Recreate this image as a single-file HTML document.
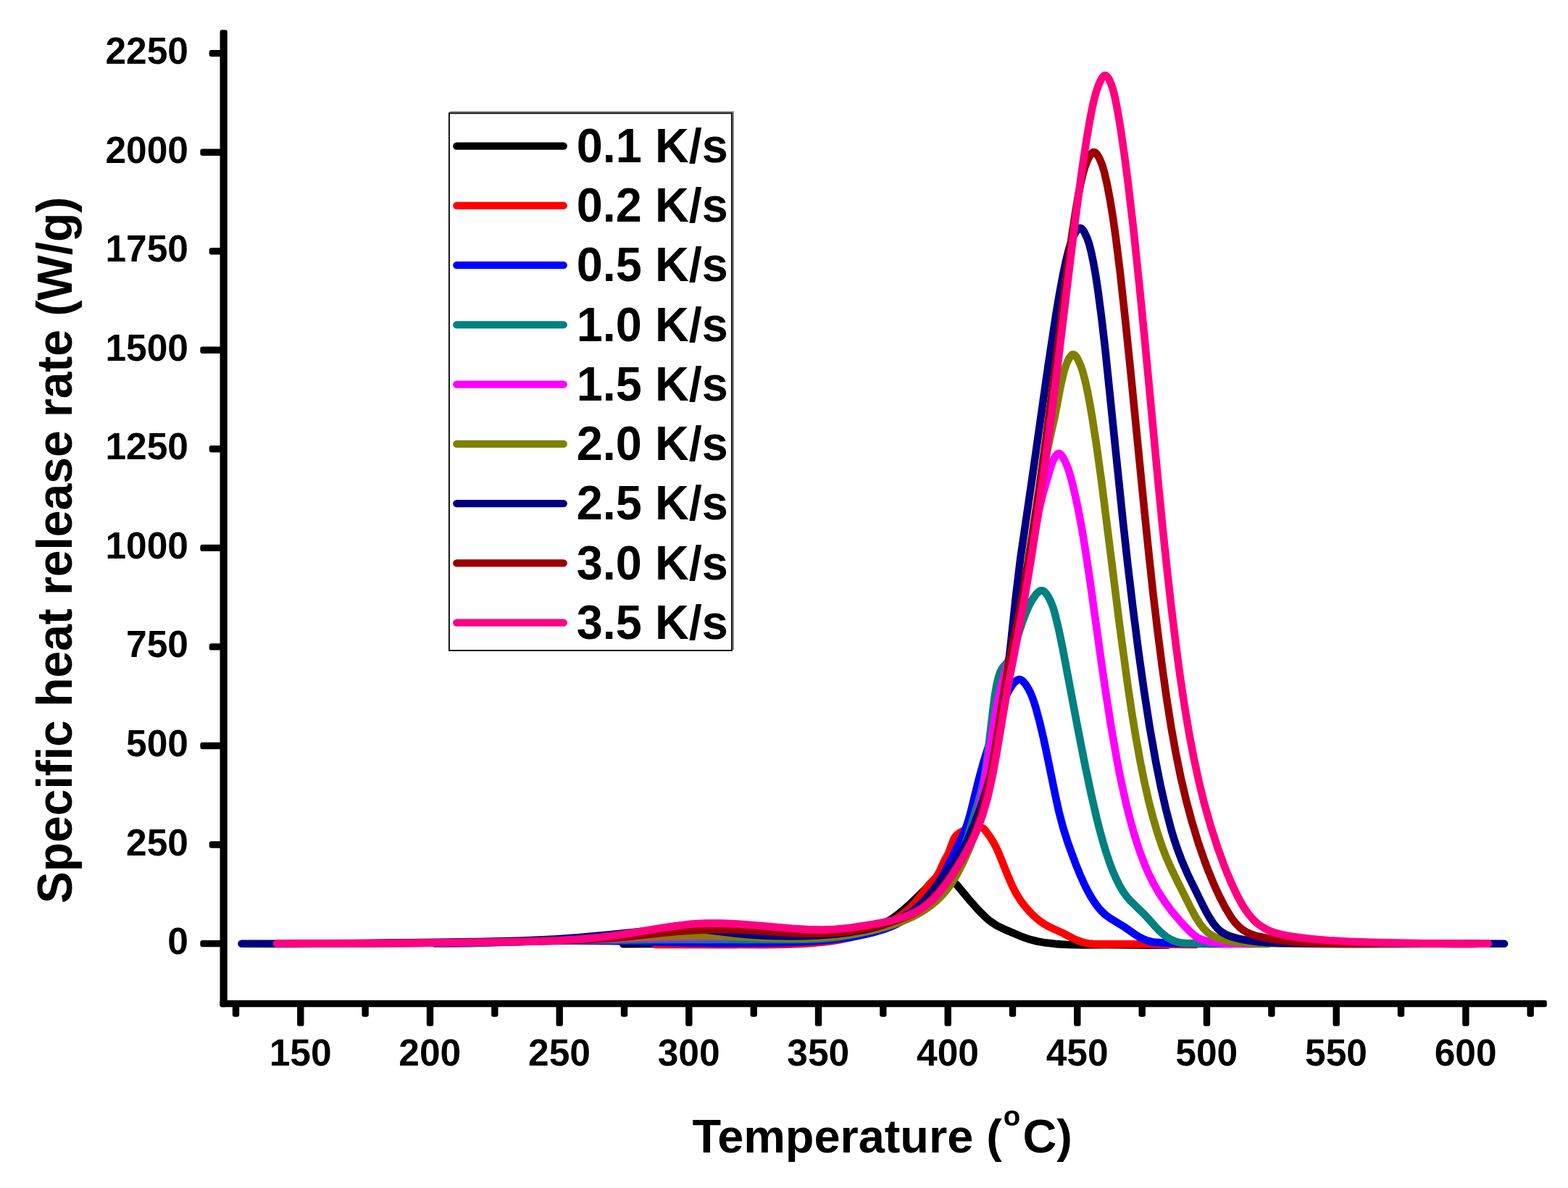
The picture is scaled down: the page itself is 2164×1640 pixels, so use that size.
<!DOCTYPE html>
<html lang="en"><head><meta charset="utf-8"><title>Specific heat release rate vs temperature</title>
<style>
html,body{margin:0;padding:0;background:#fff;}
body{width:2164px;height:1640px;}
svg{display:block;}
text{font-family:"Liberation Sans",Arial,Helvetica,sans-serif;font-weight:bold;fill:#000;}
</style></head><body>
<svg width="2164" height="1640" viewBox="0 0 2164 1640">
<rect width="2164" height="1640" fill="#fff"/>

<g fill="none" stroke-linecap="round" stroke-linejoin="round" stroke-width="10.6">
<path stroke="#000000" d="M860.0,1303.2 897.6,1303.0 1004.5,1303.2 1037.6,1302.8 1066.2,1302.0 1097.8,1300.3 1124.8,1298.1 1150.2,1294.9 1160.6,1293.3 1171.0,1291.3 1187.1,1287.4 1201.4,1282.9 1213.9,1277.7 1220.7,1274.3 1225.9,1271.4 1231.0,1268.2 1237.2,1263.8 1247.7,1255.4 1257.8,1246.2 1278.3,1226.4 1287.4,1218.5 1292.4,1215.1 1296.4,1213.0 1300.7,1211.7 1303.7,1211.5 1306.7,1211.8 1311.0,1213.3 1313.5,1214.8 1317.0,1217.7 1322.1,1223.3 1336.4,1240.7 1350.4,1256.5 1359.9,1266.1 1364.5,1270.1 1368.1,1272.8 1375.7,1277.7 1386.5,1283.0 1408.7,1292.4 1421.4,1296.9 1431.6,1299.5 1443.5,1301.6 1457.0,1303.1 1472.0,1304.0 1493.1,1304.4 1530.7,1304.3 1586.4,1304.6 1612.0,1304.5"/>
<path stroke="#ff0000" d="M905.0,1304.0 1053.9,1304.1 1083.9,1303.6 1109.5,1302.6 1123.0,1301.6 1136.4,1300.4 1148.4,1298.9 1158.8,1297.2 1170.6,1294.9 1180.8,1292.4 1190.9,1289.5 1199.5,1286.6 1207.9,1283.3 1216.1,1279.6 1224.1,1275.6 1232.0,1271.2 1238.4,1267.2 1244.5,1262.9 1250.4,1258.2 1256.0,1253.2 1260.3,1248.9 1264.3,1244.4 1269.0,1238.6 1280.8,1223.0 1284.7,1218.4 1291.1,1212.0 1293.7,1208.4 1296.6,1203.1 1302.8,1189.4 1308.6,1178.9 1310.3,1174.7 1315.4,1160.6 1317.4,1156.5 1319.2,1154.1 1321.3,1152.0 1324.9,1149.3 1328.8,1147.1 1331.6,1145.9 1334.5,1145.0 1338.9,1144.0 1352.3,1142.0 1355.2,1142.6 1356.5,1143.3 1357.7,1144.2 1359.8,1146.4 1366.0,1154.8 1371.6,1163.8 1375.1,1170.4 1378.8,1178.7 1391.7,1210.7 1397.1,1223.1 1402.6,1233.8 1408.2,1242.7 1411.8,1247.6 1416.5,1253.5 1421.5,1259.1 1426.8,1264.4 1431.3,1268.4 1436.0,1272.1 1441.0,1275.5 1444.9,1277.7 1450.3,1280.5 1466.6,1288.0 1480.0,1295.0 1485.4,1297.5 1493.9,1300.7 1498.2,1301.8 1502.7,1302.5 1508.7,1303.1 1516.2,1303.4 1553.8,1303.3 1650.0,1304.0"/>
<path stroke="#0000ff" d="M600.0,1302.5 622.5,1302.5 648.1,1302.2 747.1,1299.2 789.2,1298.6 840.2,1299.0 948.3,1301.4 997.9,1302.1 1048.9,1302.0 1092.5,1301.0 1116.5,1299.8 1137.4,1298.2 1156.9,1296.2 1174.7,1293.7 1190.9,1290.6 1207.0,1286.8 1221.4,1282.4 1232.6,1278.0 1238.0,1275.4 1243.2,1272.5 1248.2,1269.2 1253.1,1265.6 1257.7,1261.8 1263.2,1256.7 1275.8,1243.8 1284.6,1233.6 1291.8,1224.0 1299.8,1211.2 1307.7,1196.7 1314.3,1183.3 1328.6,1153.5 1331.6,1146.6 1334.2,1139.6 1336.5,1132.4 1339.4,1122.3 1350.9,1075.6 1357.7,1051.0 1363.1,1033.8 1377.4,991.1 1385.4,968.5 1388.2,961.5 1390.8,956.1 1393.7,950.8 1397.0,945.8 1399.8,942.3 1403.1,939.3 1404.4,938.5 1405.9,938.1 1407.4,938.1 1408.8,938.4 1410.1,939.1 1412.4,941.1 1416.2,945.7 1419.3,950.9 1422.1,956.2 1424.4,961.7 1426.9,968.8 1429.6,977.4 1434.7,996.3 1439.9,1018.2 1444.9,1041.7 1457.0,1100.5 1461.5,1121.0 1467.3,1142.8 1474.1,1164.3 1479.2,1178.4 1485.6,1195.3 1490.7,1207.8 1495.6,1218.7 1500.2,1228.2 1505.3,1237.4 1510.1,1245.0 1515.4,1252.3 1519.3,1256.9 1523.6,1261.1 1527.0,1264.0 1531.9,1267.5 1551.1,1279.2 1564.6,1288.7 1570.9,1292.8 1577.6,1296.3 1584.6,1298.9 1589.0,1300.0 1594.9,1300.9 1609.9,1301.9 1671.5,1302.9 1700.0,1303.0"/>
<path stroke="#008080" d="M600.0,1302.0 654.1,1301.4 768.2,1298.5 828.3,1297.6 920.0,1297.0 1094.2,1297.0 1113.8,1296.7 1130.3,1296.1 1146.8,1294.8 1161.7,1292.9 1176.5,1290.3 1192.6,1286.7 1208.5,1282.2 1224.2,1277.0 1236.7,1271.9 1247.4,1266.5 1252.5,1263.3 1257.5,1259.9 1266.8,1252.3 1272.3,1247.2 1277.5,1241.8 1288.5,1229.5 1307.8,1206.4 1315.9,1195.7 1320.1,1189.4 1323.8,1182.9 1327.2,1176.2 1330.3,1169.3 1333.5,1160.9 1336.4,1152.4 1349.9,1107.8 1353.9,1093.3 1357.3,1078.7 1360.0,1063.9 1362.6,1046.1 1370.3,980.4 1372.8,961.0 1375.6,944.7 1378.5,933.1 1380.5,927.4 1382.6,923.4 1384.3,921.0 1390.3,914.2 1392.6,910.4 1394.5,906.3 1398.7,895.0 1411.8,856.6 1416.6,844.0 1420.3,835.8 1424.6,827.9 1429.8,820.5 1431.8,818.3 1434.1,816.4 1435.4,815.6 1436.9,815.2 1438.4,815.3 1439.8,815.7 1441.1,816.5 1444.1,819.8 1446.6,823.5 1449.4,828.8 1451.8,834.4 1453.8,840.1 1455.9,847.3 1460.9,867.7 1466.4,894.2 1488.5,1010.8 1498.1,1059.4 1506.2,1097.6 1513.6,1129.8 1518.1,1147.3 1522.5,1163.2 1526.9,1177.6 1531.2,1190.4 1535.4,1201.7 1540.2,1212.7 1544.9,1222.1 1549.4,1229.9 1554.6,1237.3 1559.5,1243.0 1579.9,1262.9 1595.0,1279.6 1600.2,1285.1 1605.7,1290.1 1610.5,1293.7 1615.7,1296.8 1621.2,1299.3 1625.4,1300.7 1629.9,1301.6 1634.3,1302.1 1638.8,1302.3 1658.4,1302.0 1691.4,1302.8 1750.0,1303.0"/>
<path stroke="#ff00ff" d="M500.0,1302.3 576.6,1301.9 659.2,1300.7 740.3,1298.9 905.4,1294.5 964.0,1293.4 997.0,1293.1 1028.6,1293.2 1105.1,1294.6 1120.1,1294.4 1133.7,1293.8 1151.6,1292.2 1169.4,1289.6 1187.1,1286.0 1206.0,1281.0 1223.1,1275.4 1237.0,1269.8 1243.8,1266.5 1249.1,1263.7 1255.5,1259.8 1260.5,1256.4 1266.5,1251.9 1272.2,1247.1 1277.8,1242.0 1284.1,1235.6 1290.1,1228.9 1295.8,1221.9 1302.2,1213.6 1308.3,1205.0 1323.2,1182.5 1327.9,1174.8 1332.3,1166.9 1336.4,1158.9 1340.0,1150.6 1343.2,1142.2 1346.1,1133.7 1349.1,1123.6 1351.7,1113.4 1354.3,1101.7 1356.9,1088.4 1361.8,1060.3 1372.4,993.6 1377.5,965.5 1382.0,946.5 1391.0,914.7 1397.2,891.5 1402.2,871.1 1407.1,849.1 1414.5,812.3 1429.4,728.0 1432.8,710.3 1435.6,697.0 1440.0,679.6 1449.2,647.8 1451.5,640.7 1453.8,635.1 1456.6,629.8 1458.4,627.5 1459.6,626.5 1461.0,626.0 1462.4,626.3 1463.7,627.1 1464.7,628.2 1466.5,630.6 1470.1,637.2 1473.6,645.5 1476.4,654.1 1479.9,667.1 1483.4,681.7 1487.3,699.3 1492.7,727.4 1498.3,761.4 1504.5,803.0 1519.0,907.1 1526.1,956.2 1533.8,1005.2 1541.3,1048.1 1545.6,1070.2 1550.3,1092.2 1554.6,1111.2 1559.4,1130.2 1564.2,1147.6 1569.0,1163.4 1573.8,1177.6 1579.1,1191.6 1585.0,1205.5 1591.6,1218.9 1599.0,1232.0 1607.3,1244.5 1617.1,1257.8 1628.7,1271.6 1635.8,1279.3 1642.1,1285.8 1646.6,1289.8 1650.1,1292.6 1655.2,1295.7 1660.9,1297.8 1669.6,1299.8 1681.5,1301.8 1689.0,1302.5 1698.0,1302.9 1731.0,1303.0"/>
<path stroke="#808000" d="M450.0,1302.4 510.1,1302.3 568.6,1301.9 624.1,1301.2 678.2,1300.2 766.7,1297.8 922.8,1292.3 955.8,1291.5 975.3,1291.4 993.3,1291.8 1054.8,1294.6 1078.8,1295.3 1105.8,1295.3 1132.8,1294.1 1158.3,1292.0 1180.6,1289.0 1201.2,1285.1 1211.5,1282.6 1221.6,1279.9 1231.6,1276.8 1240.1,1273.8 1249.9,1269.9 1258.1,1266.2 1266.1,1262.1 1272.6,1258.4 1278.9,1254.3 1285.0,1249.8 1290.8,1245.0 1296.3,1239.9 1301.4,1234.5 1307.2,1227.5 1311.6,1221.5 1316.5,1214.0 1321.1,1206.2 1325.4,1198.2 1330.0,1188.8 1334.9,1177.9 1340.1,1165.4 1344.9,1152.8 1349.5,1140.0 1353.2,1128.6 1356.6,1117.1 1360.2,1104.1 1365.0,1083.6 1369.8,1060.1 1375.1,1030.5 1386.2,962.4 1391.4,932.8 1397.7,900.4 1410.2,840.1 1415.5,812.1 1422.7,767.6 1438.0,663.6 1441.4,642.9 1444.7,625.2 1447.7,610.5 1455.7,575.3 1463.5,534.0 1467.8,515.0 1470.9,504.9 1473.1,499.4 1475.1,495.3 1476.7,492.8 1478.6,490.5 1479.8,489.6 1481.3,489.4 1482.7,489.8 1483.9,490.7 1485.8,493.1 1487.3,495.6 1491.1,503.8 1494.1,512.3 1497.2,523.9 1500.5,538.6 1503.9,556.2 1507.2,575.5 1513.2,614.1 1520.0,663.1 1545.1,862.7 1555.8,941.6 1561.7,981.7 1567.5,1017.2 1573.1,1048.3 1579.0,1077.7 1584.9,1104.1 1591.3,1128.8 1597.6,1150.4 1604.4,1170.3 1609.9,1184.3 1616.6,1199.4 1623.8,1214.2 1643.9,1254.5 1650.4,1266.4 1656.0,1275.2 1661.6,1282.3 1667.0,1287.5 1671.9,1291.0 1674.5,1292.4 1678.6,1294.3 1687.2,1297.0 1696.0,1299.0 1704.9,1300.4 1713.9,1301.3 1724.4,1302.0 1734.9,1302.3 1835.4,1302.9 1900.0,1303.0"/>
<path stroke="#000080" d="M333.5,1302.8 405.6,1302.9 489.6,1302.3 660.7,1300.1 722.3,1298.6 759.8,1296.9 797.2,1294.4 842.0,1290.4 910.7,1283.2 925.7,1282.0 939.2,1281.5 951.2,1281.7 963.2,1282.5 975.1,1283.7 1016.9,1288.7 1033.3,1290.2 1051.3,1291.4 1070.8,1292.2 1090.3,1292.4 1109.8,1292.2 1127.8,1291.5 1151.7,1289.7 1174.1,1286.9 1193.3,1283.5 1203.5,1281.1 1212.2,1278.8 1220.8,1276.1 1229.3,1273.1 1236.3,1270.4 1243.1,1267.2 1249.8,1263.7 1256.2,1259.8 1262.3,1255.5 1267.0,1251.7 1271.4,1247.7 1276.6,1242.3 1281.6,1236.6 1287.2,1229.6 1302.6,1209.3 1318.4,1189.2 1324.3,1180.5 1329.5,1171.4 1334.8,1160.6 1340.8,1146.9 1346.9,1131.5 1353.2,1114.6 1358.0,1100.4 1362.5,1086.1 1366.6,1071.7 1370.3,1057.1 1374.2,1039.5 1377.9,1020.4 1381.5,999.6 1384.5,978.9 1389.9,935.7 1402.1,822.2 1408.2,771.6 1424.3,661.6 1446.9,502.6 1457.3,434.3 1462.3,404.7 1466.7,381.1 1471.0,360.6 1475.0,344.6 1478.6,333.1 1480.9,327.5 1482.9,323.5 1485.1,319.6 1486.8,317.1 1489.1,315.2 1490.6,314.8 1492.0,315.2 1493.2,316.0 1495.2,318.3 1496.7,320.9 1500.5,329.0 1503.4,337.6 1506.3,349.2 1509.3,363.9 1512.4,381.7 1515.5,402.4 1520.2,438.2 1525.4,482.9 1549.4,715.8 1556.5,780.0 1563.4,838.1 1571.2,899.2 1579.0,954.2 1586.8,1004.6 1594.9,1050.5 1601.9,1085.8 1609.3,1118.0 1616.5,1145.6 1620.4,1158.5 1624.2,1169.9 1631.0,1188.2 1639.4,1207.5 1659.8,1249.3 1664.6,1258.6 1668.3,1265.2 1674.0,1274.0 1679.6,1281.0 1682.9,1284.1 1685.2,1286.0 1687.7,1287.7 1691.6,1289.9 1695.8,1291.6 1700.0,1293.2 1711.6,1296.3 1723.4,1298.5 1738.3,1300.2 1751.8,1301.3 1766.8,1301.9 1811.8,1302.6 1877.8,1302.9 2076.0,1302.8"/>
<path stroke="#990000" d="M400.0,1302.5 551.6,1302.0 628.2,1301.4 700.2,1300.3 769.2,1298.4 814.2,1296.7 844.2,1295.0 868.1,1292.9 912.9,1287.9 933.8,1285.9 959.2,1284.1 983.2,1283.2 1004.3,1283.1 1026.8,1283.7 1044.8,1284.7 1088.2,1287.7 1110.7,1288.7 1131.7,1288.9 1149.7,1288.1 1160.2,1287.3 1172.1,1285.9 1182.5,1284.4 1192.8,1282.5 1204.6,1280.0 1214.8,1277.4 1224.9,1274.5 1234.9,1271.3 1243.3,1268.3 1251.7,1264.9 1258.5,1261.8 1263.8,1258.9 1268.9,1255.8 1275.0,1251.4 1279.6,1247.6 1285.1,1242.5 1291.4,1236.0 1298.2,1228.0 1304.8,1219.8 1312.8,1208.9 1319.6,1199.0 1325.2,1190.1 1330.5,1181.1 1335.4,1171.8 1339.9,1162.3 1344.0,1152.6 1347.8,1142.8 1351.2,1132.9 1354.3,1122.8 1357.6,1111.3 1360.6,1099.6 1363.6,1086.5 1368.0,1064.4 1372.7,1037.8 1386.3,951.8 1390.7,925.2 1395.2,901.6 1405.7,850.1 1412.3,814.7 1418.5,777.6 1425.4,733.2 1434.4,672.3 1443.4,606.8 1453.7,527.9 1474.0,364.1 1479.9,321.0 1485.2,286.8 1488.3,269.1 1491.2,254.4 1494.3,241.2 1497.1,231.1 1500.3,222.7 1502.2,218.6 1504.3,214.6 1506.1,212.2 1507.1,211.1 1508.4,210.3 1509.8,210.0 1511.3,210.4 1513.5,212.4 1516.7,217.5 1518.6,221.6 1520.9,227.1 1524.3,238.6 1528.0,254.7 1531.9,275.4 1535.8,299.1 1539.8,327.3 1546.1,377.9 1553.1,442.1 1560.0,509.3 1579.8,709.5 1586.0,769.2 1591.5,819.9 1597.9,873.6 1604.0,921.2 1610.1,964.3 1616.4,1004.4 1622.8,1039.8 1629.7,1073.6 1637.3,1105.8 1645.1,1134.8 1653.8,1163.5 1663.2,1190.5 1668.0,1203.1 1673.1,1215.6 1677.9,1226.6 1683.0,1237.5 1691.3,1253.5 1698.3,1265.0 1701.7,1269.9 1705.5,1274.6 1708.6,1277.9 1711.8,1281.0 1715.4,1283.7 1719.2,1286.1 1723.2,1288.2 1727.4,1289.9 1731.7,1291.3 1737.5,1292.8 1750.7,1295.5 1768.5,1298.3 1786.4,1300.3 1805.9,1301.7 1828.4,1302.6 1856.9,1302.9 1924.4,1302.5 2005.5,1303.0 2040.0,1302.8"/>
<path stroke="#ff0080" d="M382.0,1302.5 481.1,1302.5 596.6,1301.6 713.7,1300.1 743.7,1299.4 770.7,1298.4 802.1,1296.4 830.5,1293.7 860.2,1289.7 915.0,1280.7 934.3,1277.9 955.2,1275.6 974.7,1274.6 995.7,1274.6 1018.2,1275.6 1040.7,1277.3 1093.0,1281.8 1114.0,1283.1 1135.0,1283.6 1153.0,1282.8 1163.4,1281.9 1175.3,1280.5 1205.0,1276.0 1225.6,1272.0 1234.4,1269.9 1243.0,1267.3 1250.1,1264.9 1257.1,1262.1 1263.8,1258.8 1269.1,1255.9 1275.4,1251.8 1280.2,1248.2 1284.8,1244.4 1290.2,1239.1 1296.2,1232.5 1301.8,1225.4 1308.0,1216.9 1313.8,1208.2 1323.4,1192.9 1331.2,1180.1 1337.0,1169.6 1342.5,1158.9 1346.3,1150.7 1350.3,1141.0 1353.4,1132.6 1356.8,1122.7 1359.8,1112.6 1363.0,1101.0 1368.3,1077.6 1371.5,1061.4 1375.3,1040.7 1390.2,951.9 1404.5,878.3 1413.1,831.0 1422.3,776.3 1431.5,716.9 1441.4,647.1 1451.2,572.7 1460.3,499.7 1479.1,343.3 1487.0,280.7 1493.6,231.7 1499.7,191.6 1503.2,170.9 1506.5,153.2 1509.7,138.5 1512.8,126.9 1515.7,118.4 1519.4,110.2 1520.9,107.6 1522.8,105.3 1524.0,104.4 1525.4,104.1 1526.8,104.6 1528.9,106.8 1530.5,109.3 1532.4,113.4 1534.1,117.6 1536.0,123.3 1539.2,136.4 1542.9,155.5 1547.0,180.7 1551.7,213.4 1556.4,249.1 1564.3,316.2 1572.6,395.3 1579.8,468.5 1599.0,671.7 1604.9,731.4 1610.4,783.7 1616.6,838.8 1622.6,888.0 1628.5,932.6 1634.5,972.7 1640.9,1011.2 1647.6,1046.6 1654.6,1078.9 1662.1,1109.5 1670.7,1139.8 1679.9,1168.4 1689.6,1195.2 1694.6,1207.7 1699.9,1220.1 1707.6,1236.4 1714.8,1249.6 1718.9,1255.9 1722.3,1260.8 1726.1,1265.5 1730.1,1269.9 1734.4,1274.1 1738.0,1276.9 1741.7,1279.4 1746.9,1282.4 1750.9,1284.4 1756.5,1286.6 1762.2,1288.5 1768.0,1290.0 1775.4,1291.5 1784.2,1293.0 1808.1,1296.0 1833.5,1298.2 1861.9,1299.8 1900.9,1301.1 1964.0,1302.4 2012.0,1302.9 2054.0,1302.8"/>
</g>
<g fill="#000">
<rect x="276.3" y="1297.9" width="32.3" height="9.4" rx="3.2" ry="3.2"/>
<rect x="288.7" y="1161.3" width="19.9" height="9.4" rx="3.2" ry="3.2"/>
<rect x="276.3" y="1024.8" width="32.3" height="9.4" rx="3.2" ry="3.2"/>
<rect x="288.7" y="888.2" width="19.9" height="9.4" rx="3.2" ry="3.2"/>
<rect x="276.3" y="751.7" width="32.3" height="9.4" rx="3.2" ry="3.2"/>
<rect x="288.7" y="615.1" width="19.9" height="9.4" rx="3.2" ry="3.2"/>
<rect x="276.3" y="478.6" width="32.3" height="9.4" rx="3.2" ry="3.2"/>
<rect x="288.7" y="342.0" width="19.9" height="9.4" rx="3.2" ry="3.2"/>
<rect x="276.3" y="205.5" width="32.3" height="9.4" rx="3.2" ry="3.2"/>
<rect x="288.7" y="68.9" width="19.9" height="9.4" rx="3.2" ry="3.2"/>
<rect x="320.8" y="1385.5" width="9.4" height="18.3" rx="3.2" ry="3.2"/>
<rect x="410.1" y="1385.5" width="9.4" height="31.1" rx="3.2" ry="3.2"/>
<rect x="499.4" y="1385.5" width="9.4" height="18.3" rx="3.2" ry="3.2"/>
<rect x="588.8" y="1385.5" width="9.4" height="31.1" rx="3.2" ry="3.2"/>
<rect x="678.1" y="1385.5" width="9.4" height="18.3" rx="3.2" ry="3.2"/>
<rect x="767.5" y="1385.5" width="9.4" height="31.1" rx="3.2" ry="3.2"/>
<rect x="856.8" y="1385.5" width="9.4" height="18.3" rx="3.2" ry="3.2"/>
<rect x="946.1" y="1385.5" width="9.4" height="31.1" rx="3.2" ry="3.2"/>
<rect x="1035.5" y="1385.5" width="9.4" height="18.3" rx="3.2" ry="3.2"/>
<rect x="1124.8" y="1385.5" width="9.4" height="31.1" rx="3.2" ry="3.2"/>
<rect x="1214.1" y="1385.5" width="9.4" height="18.3" rx="3.2" ry="3.2"/>
<rect x="1303.5" y="1385.5" width="9.4" height="31.1" rx="3.2" ry="3.2"/>
<rect x="1392.8" y="1385.5" width="9.4" height="18.3" rx="3.2" ry="3.2"/>
<rect x="1482.1" y="1385.5" width="9.4" height="31.1" rx="3.2" ry="3.2"/>
<rect x="1571.5" y="1385.5" width="9.4" height="18.3" rx="3.2" ry="3.2"/>
<rect x="1660.8" y="1385.5" width="9.4" height="31.1" rx="3.2" ry="3.2"/>
<rect x="1750.2" y="1385.5" width="9.4" height="18.3" rx="3.2" ry="3.2"/>
<rect x="1839.5" y="1385.5" width="9.4" height="31.1" rx="3.2" ry="3.2"/>
<rect x="1928.8" y="1385.5" width="9.4" height="18.3" rx="3.2" ry="3.2"/>
<rect x="2018.2" y="1385.5" width="9.4" height="31.1" rx="3.2" ry="3.2"/>
<rect x="2107.5" y="1385.5" width="9.4" height="18.3" rx="3.2" ry="3.2"/>
<rect x="303.5" y="41.3" width="10.3" height="1348.9" rx="3.0" ry="3.0"/>
<rect x="303.5" y="1380.8" width="1831.4" height="9.4" rx="3.0" ry="3.0"/>
</g>
<text transform="translate(260.0,1317.0)" font-size="51.5" text-anchor="end">0</text>
<text transform="translate(260.0,1180.5)" font-size="51.5" text-anchor="end">250</text>
<text transform="translate(260.0,1043.9)" font-size="51.5" text-anchor="end">500</text>
<text transform="translate(260.0,907.3)" font-size="51.5" text-anchor="end">750</text>
<text transform="translate(260.0,770.8)" font-size="51.5" text-anchor="end">1000</text>
<text transform="translate(260.0,634.2)" font-size="51.5" text-anchor="end">1250</text>
<text transform="translate(260.0,497.7)" font-size="51.5" text-anchor="end">1500</text>
<text transform="translate(260.0,361.1)" font-size="51.5" text-anchor="end">1750</text>
<text transform="translate(260.0,224.6)" font-size="51.5" text-anchor="end">2000</text>
<text transform="translate(260.0,88.0)" font-size="51.5" text-anchor="end">2250</text>
<text transform="translate(414.6,1470.8)" font-size="51.5" text-anchor="middle">150</text>
<text transform="translate(593.3,1470.8)" font-size="51.5" text-anchor="middle">200</text>
<text transform="translate(772.0,1470.8)" font-size="51.5" text-anchor="middle">250</text>
<text transform="translate(950.6,1470.8)" font-size="51.5" text-anchor="middle">300</text>
<text transform="translate(1129.3,1470.8)" font-size="51.5" text-anchor="middle">350</text>
<text transform="translate(1308.0,1470.8)" font-size="51.5" text-anchor="middle">400</text>
<text transform="translate(1486.6,1470.8)" font-size="51.5" text-anchor="middle">450</text>
<text transform="translate(1665.3,1470.8)" font-size="51.5" text-anchor="middle">500</text>
<text transform="translate(1844.0,1470.8)" font-size="51.5" text-anchor="middle">550</text>
<text transform="translate(2022.7,1470.8)" font-size="51.5" text-anchor="middle">600</text>
<text transform="translate(1217.6,1591.0) scale(1.013,1.0)" font-size="64" text-anchor="middle">Temperature (<tspan font-size="38" dy="-37" dx="2">o</tspan><tspan dy="37" dx="3">C)</tspan></text>
<text transform="translate(98.6,759.5) rotate(-90) scale(1.0,1.03)" font-size="66" text-anchor="middle">Specific heat release rate (W/g)</text>
<rect x="621.9" y="154.6" width="390" height="741.4" fill="#fff" stroke="#808080" stroke-width="2"/>
<rect x="619.9" y="156.3" width="390" height="741.7" fill="#fff" stroke="#111" stroke-width="2"/>
<g stroke-linecap="round" stroke-width="10.4">
<line x1="630.3" y1="201.6" x2="777.7" y2="201.6" stroke="#000000"/>
<line x1="630.3" y1="283.9" x2="777.7" y2="283.9" stroke="#ff0000"/>
<line x1="630.3" y1="366.1" x2="777.7" y2="366.1" stroke="#0000ff"/>
<line x1="630.3" y1="448.4" x2="777.7" y2="448.4" stroke="#008080"/>
<line x1="630.3" y1="530.6" x2="777.7" y2="530.6" stroke="#ff00ff"/>
<line x1="630.3" y1="612.9" x2="777.7" y2="612.9" stroke="#808000"/>
<line x1="630.3" y1="695.1" x2="777.7" y2="695.1" stroke="#000080"/>
<line x1="630.3" y1="777.4" x2="777.7" y2="777.4" stroke="#990000"/>
<line x1="630.3" y1="859.6" x2="777.7" y2="859.6" stroke="#ff0080"/>
</g>
<text transform="translate(795.8,223.8) scale(1.013,1.038)" font-size="64" text-anchor="start">0.1 K/s</text>
<text transform="translate(795.8,306.1) scale(1.013,1.038)" font-size="64" text-anchor="start">0.2 K/s</text>
<text transform="translate(795.8,388.3) scale(1.013,1.038)" font-size="64" text-anchor="start">0.5 K/s</text>
<text transform="translate(795.8,470.6) scale(1.013,1.038)" font-size="64" text-anchor="start">1.0 K/s</text>
<text transform="translate(795.8,552.8) scale(1.013,1.038)" font-size="64" text-anchor="start">1.5 K/s</text>
<text transform="translate(795.8,635.1) scale(1.013,1.038)" font-size="64" text-anchor="start">2.0 K/s</text>
<text transform="translate(795.8,717.3) scale(1.013,1.038)" font-size="64" text-anchor="start">2.5 K/s</text>
<text transform="translate(795.8,799.6) scale(1.013,1.038)" font-size="64" text-anchor="start">3.0 K/s</text>
<text transform="translate(795.8,881.8) scale(1.013,1.038)" font-size="64" text-anchor="start">3.5 K/s</text>
</svg></body></html>
